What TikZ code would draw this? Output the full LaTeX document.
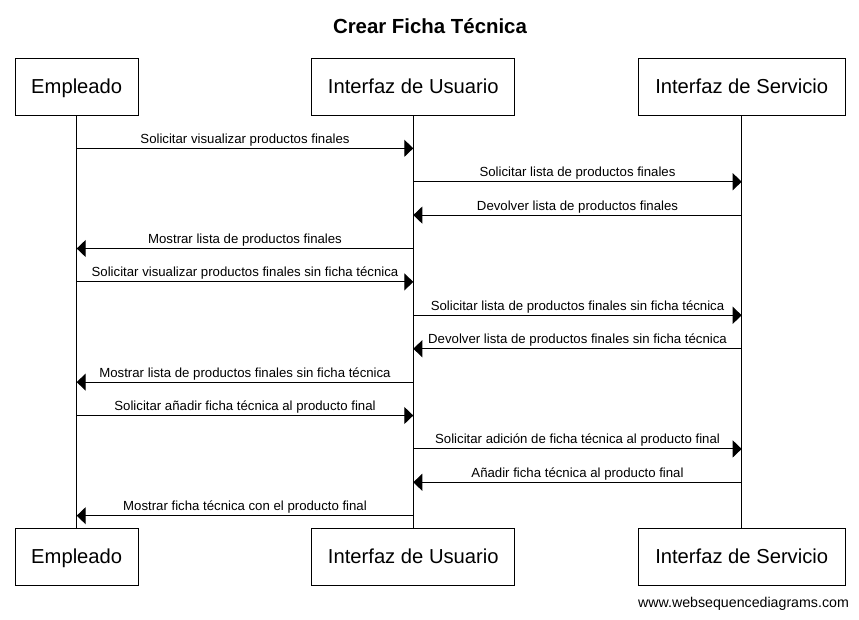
\documentclass[tikz,border=0pt]{standalone}
\usepackage{fontspec}
\setmainfont{Liberation Sans}
\usetikzlibrary{arrows.meta}
\begin{document}
\begin{tikzpicture}[x=1pt,y=-1pt,
  actor/.style={draw=black, line width=1pt, fill=white, minimum height=57pt, inner sep=0pt,
    font=\fontsize{20.2}{24}\selectfont, text height=14.3pt, text depth=0pt},
  lifeline/.style={draw=black, line width=1pt},
  msg/.style={draw=black, line width=1pt, -{Triangle[length=9pt,width=17pt]}},
  lbl/.style={midway, anchor=base, yshift=5pt, inner sep=0pt, font=\fontsize{13.2}{15}\selectfont}]
\useasboundingbox[fill=white] (0,0) rectangle (859,619);
\node[anchor=base, font=\fontsize{20.4}{24}\selectfont\bfseries] (title) at (430,33) {Crear Ficha Técnica};
\node[actor, minimum width=123.3pt] (eT) at (76.7,86.7) {Empleado};
\node[actor, minimum width=203.3pt] (uT) at (413.3,86.7) {Interfaz de Usuario};
\node[actor, minimum width=206.7pt] (sT) at (741.7,86.7) {Interfaz de Servicio};
\node[actor, minimum width=123.3pt] (eB) at (76.7,556.7) {Empleado};
\node[actor, minimum width=203.3pt] (uB) at (413.3,556.7) {Interfaz de Usuario};
\node[actor, minimum width=206.7pt] (sB) at (741.7,556.7) {Interfaz de Servicio};
\draw[lifeline] (eT.south) -- (eB.north);
\draw[lifeline] (uT.south) -- (uB.north);
\draw[lifeline] (sT.south) -- (sB.north);
\foreach \i in {1,...,12} {
  \coordinate (m\i) at (0,{148.3+33.4*(\i-1)});
}
\draw[msg] (eT |- m1) -- (uT |- m1) node[lbl] {Solicitar visualizar productos finales};
\draw[msg] (uT |- m2) -- (sT |- m2) node[lbl] {Solicitar lista de productos finales};
\draw[msg] (sT |- m3) -- (uT |- m3) node[lbl] {Devolver lista de productos finales};
\draw[msg] (uT |- m4) -- (eT |- m4) node[lbl] {Mostrar lista de productos finales};
\draw[msg] (eT |- m5) -- (uT |- m5) node[lbl] {Solicitar visualizar productos finales sin ficha técnica};
\draw[msg] (uT |- m6) -- (sT |- m6) node[lbl] {Solicitar lista de productos finales sin ficha técnica};
\draw[msg] (sT |- m7) -- (uT |- m7) node[lbl] {Devolver lista de productos finales sin ficha técnica};
\draw[msg] (uT |- m8) -- (eT |- m8) node[lbl] {Mostrar lista de productos finales sin ficha técnica};
\draw[msg] (eT |- m9) -- (uT |- m9) node[lbl] {Solicitar añadir ficha técnica al producto final};
\draw[msg] (uT |- m10) -- (sT |- m10) node[lbl] {Solicitar adición de ficha técnica al producto final};
\draw[msg] (sT |- m11) -- (uT |- m11) node[lbl] {Añadir ficha técnica al producto final};
\draw[msg] (uT |- m12) -- (eT |- m12) node[lbl] {Mostrar ficha técnica con el producto final};
\node[anchor=base, font=\fontsize{14.2}{16}\selectfont] (footer) at (743.5,607) {www.websequencediagrams.com};
\end{tikzpicture}
\end{document}
